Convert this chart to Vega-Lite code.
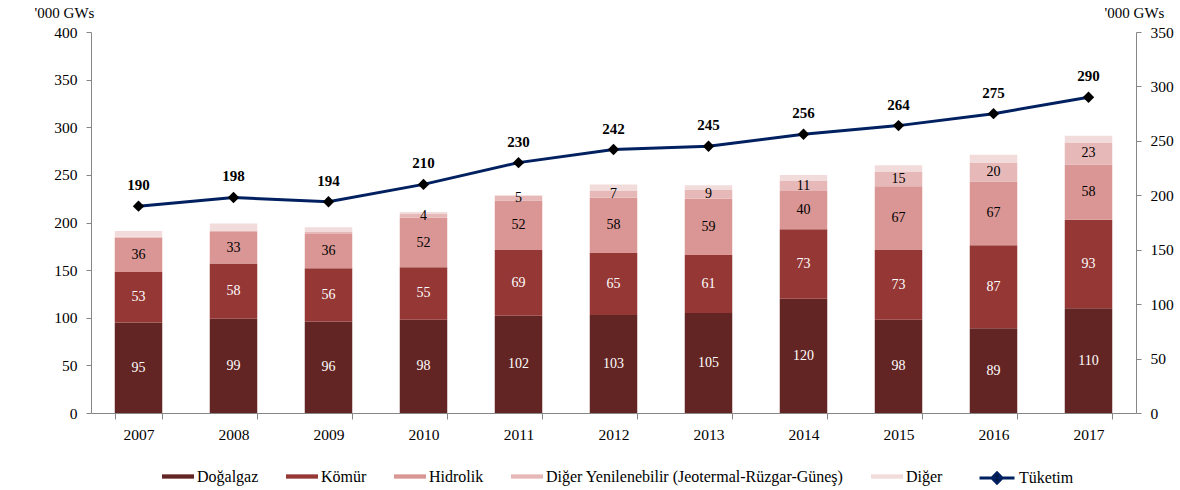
{
  "$schema": "https://vega.github.io/schema/vega-lite/v6.json",
  "width": 1045,
  "height": 381,
  "autosize": "none",
  "padding": {"left": 91, "top": 32, "right": 44, "bottom": 77},
  "background": "white",
  "config": {
    "view": {"stroke": null},
    "font": "Liberation Serif",
    "axis": {"labelFont": "Liberation Serif", "titleFont": "Liberation Serif"},
    "text": {"font": "Liberation Serif"},
    "legend": {"labelFont": "Liberation Serif", "titleFont": "Liberation Serif", "labelFontSize": 16, "labelColor": "black"}
  },
  "datasets": {
    "gen": [
      {"year": "2007", "source": "Doğalgaz", "value": 95},
      {"year": "2007", "source": "Kömür", "value": 53},
      {"year": "2007", "source": "Hidrolik", "value": 36},
      {"year": "2007", "source": "Diğer Yenilenebilir (Jeotermal-Rüzgar-Güneş)", "value": 1},
      {"year": "2007", "source": "Diğer", "value": 6},
      {"year": "2008", "source": "Doğalgaz", "value": 99},
      {"year": "2008", "source": "Kömür", "value": 58},
      {"year": "2008", "source": "Hidrolik", "value": 33},
      {"year": "2008", "source": "Diğer Yenilenebilir (Jeotermal-Rüzgar-Güneş)", "value": 1},
      {"year": "2008", "source": "Diğer", "value": 8},
      {"year": "2009", "source": "Doğalgaz", "value": 96},
      {"year": "2009", "source": "Kömür", "value": 56},
      {"year": "2009", "source": "Hidrolik", "value": 36},
      {"year": "2009", "source": "Diğer Yenilenebilir (Jeotermal-Rüzgar-Güneş)", "value": 2},
      {"year": "2009", "source": "Diğer", "value": 5},
      {"year": "2010", "source": "Doğalgaz", "value": 98},
      {"year": "2010", "source": "Kömür", "value": 55},
      {"year": "2010", "source": "Hidrolik", "value": 52},
      {"year": "2010", "source": "Diğer Yenilenebilir (Jeotermal-Rüzgar-Güneş)", "value": 4},
      {"year": "2010", "source": "Diğer", "value": 2},
      {"year": "2011", "source": "Doğalgaz", "value": 102},
      {"year": "2011", "source": "Kömür", "value": 69},
      {"year": "2011", "source": "Hidrolik", "value": 52},
      {"year": "2011", "source": "Diğer Yenilenebilir (Jeotermal-Rüzgar-Güneş)", "value": 5},
      {"year": "2011", "source": "Diğer", "value": 1},
      {"year": "2012", "source": "Doğalgaz", "value": 103},
      {"year": "2012", "source": "Kömür", "value": 65},
      {"year": "2012", "source": "Hidrolik", "value": 58},
      {"year": "2012", "source": "Diğer Yenilenebilir (Jeotermal-Rüzgar-Güneş)", "value": 7},
      {"year": "2012", "source": "Diğer", "value": 7},
      {"year": "2013", "source": "Doğalgaz", "value": 105},
      {"year": "2013", "source": "Kömür", "value": 61},
      {"year": "2013", "source": "Hidrolik", "value": 59},
      {"year": "2013", "source": "Diğer Yenilenebilir (Jeotermal-Rüzgar-Güneş)", "value": 9},
      {"year": "2013", "source": "Diğer", "value": 5},
      {"year": "2014", "source": "Doğalgaz", "value": 120},
      {"year": "2014", "source": "Kömür", "value": 73},
      {"year": "2014", "source": "Hidrolik", "value": 40},
      {"year": "2014", "source": "Diğer Yenilenebilir (Jeotermal-Rüzgar-Güneş)", "value": 11},
      {"year": "2014", "source": "Diğer", "value": 6},
      {"year": "2015", "source": "Doğalgaz", "value": 98},
      {"year": "2015", "source": "Kömür", "value": 73},
      {"year": "2015", "source": "Hidrolik", "value": 67},
      {"year": "2015", "source": "Diğer Yenilenebilir (Jeotermal-Rüzgar-Güneş)", "value": 15},
      {"year": "2015", "source": "Diğer", "value": 7},
      {"year": "2016", "source": "Doğalgaz", "value": 89},
      {"year": "2016", "source": "Kömür", "value": 87},
      {"year": "2016", "source": "Hidrolik", "value": 67},
      {"year": "2016", "source": "Diğer Yenilenebilir (Jeotermal-Rüzgar-Güneş)", "value": 20},
      {"year": "2016", "source": "Diğer", "value": 8},
      {"year": "2017", "source": "Doğalgaz", "value": 110},
      {"year": "2017", "source": "Kömür", "value": 93},
      {"year": "2017", "source": "Hidrolik", "value": 58},
      {"year": "2017", "source": "Diğer Yenilenebilir (Jeotermal-Rüzgar-Güneş)", "value": 23},
      {"year": "2017", "source": "Diğer", "value": 7}
    ],
    "cons": [
      {"year": "2007", "value": 190},
      {"year": "2008", "value": 198},
      {"year": "2009", "value": 194},
      {"year": "2010", "value": 210},
      {"year": "2011", "value": 230},
      {"year": "2012", "value": 242},
      {"year": "2013", "value": 245},
      {"year": "2014", "value": 256},
      {"year": "2015", "value": 264},
      {"year": "2016", "value": 275},
      {"year": "2017", "value": 290}
    ]
  },
  "encoding": {
    "x": {
      "field": "year",
      "type": "nominal",
      "scale": {"paddingInner": 0.5, "paddingOuter": 0.25},
      "axis": {
        "title": null,
        "labelAngle": 0,
        "labelFont": "Liberation Serif",
        "labelFontSize": 15.5,
        "labelColor": "black",
        "labelPadding": 8,
        "tickBand": "extent",
        "tickSize": 6,
        "tickColor": "#868686",
        "domainColor": "#868686",
        "grid": false
      }
    }
  },
  "layer": [
    {
      "data": {"name": "gen"},
      "transform": [
        {"calculate": "indexof(['Doğalgaz','Kömür','Hidrolik','Diğer Yenilenebilir (Jeotermal-Rüzgar-Güneş)','Diğer'], datum.source)", "as": "i"},
        {"stack": "value", "groupby": ["year"], "sort": [{"field": "i", "order": "ascending"}], "as": ["v0", "v1"]}
      ],
      "layer": [
        {
          "mark": {"type": "bar", "opacity": 1},
          "encoding": {
            "y": {
              "field": "v0",
              "type": "quantitative",
              "scale": {"domain": [0, 400]},
              "axis": {
                "values": [0, 50, 100, 150, 200, 250, 300, 350, 400],
                "grid": false,
                "domainColor": "#868686",
                "tickColor": "#868686",
                "tickSize": 5,
                "labelPadding": 9,
                "labelFont": "Liberation Serif",
                "labelFontSize": 15.5,
                "labelColor": "black",
                "title": "'000 GWs",
                "titleAngle": 0,
                "titleFont": "Liberation Serif",
                "titleFontSize": 15,
                "titleFontWeight": "normal",
                "titleColor": "black",
                "titleAlign": "center",
                "titleBaseline": "alphabetic",
                "titleX": -27,
                "titleY": -15
              }
            },
            "y2": {"field": "v1"},
            "color": {
              "field": "source",
              "type": "nominal",
              "scale": {
                "domain": ["Doğalgaz", "Kömür", "Hidrolik", "Diğer Yenilenebilir (Jeotermal-Rüzgar-Güneş)", "Diğer"],
                "range": ["#632523", "#953735", "#D99694", "#E6B9B8", "#F2DCDB"]
              },
              "legend": {
                "title": null,
                "orient": "none",
                "direction": "horizontal",
                "legendX": 71,
                "legendY": 428.5,
                "symbolType": "M-1,-0.135L1,-0.135L1,0.135L-1,0.135Z",
                "symbolSize": 1024,
                "symbolStrokeWidth": 0,
                "symbolOpacity": 1,
                "labelFont": "Liberation Serif",
                "labelFontSize": 16,
                "labelColor": "black",
                "labelOffset": 3,
                "columnPadding": 27,
                "labelLimit": 400
              }
            }
          }
        },
        {
          "transform": [
            {"filter": "datum.i < 4 && datum.value >= 4"},
            {"calculate": "(datum.v0 + datum.v1) / 2", "as": "mid"}
          ],
          "mark": {"type": "text", "font": "Liberation Serif", "fontSize": 14, "baseline": "middle", "align": "center"},
          "encoding": {
            "y": {"field": "mid", "type": "quantitative"},
            "text": {"field": "value", "type": "quantitative"},
            "color": {"condition": {"test": "datum.i < 2", "value": "white"}, "value": "black"}
          }
        }
      ]
    },
    {
      "data": {"name": "cons"},
      "layer": [
        {
          "mark": {"type": "line", "strokeWidth": 3},
          "encoding": {
            "y": {
              "field": "value",
              "type": "quantitative",
              "scale": {"domain": [0, 350]},
              "axis": {
                "orient": "right",
                "values": [0, 50, 100, 150, 200, 250, 300, 350],
                "grid": false,
                "domainColor": "#868686",
                "tickColor": "#868686",
                "tickSize": 5,
                "labelPadding": 9,
                "labelFont": "Liberation Serif",
                "labelFontSize": 15.5,
                "labelColor": "black",
                "title": "'000 GWs",
                "titleAngle": 0,
                "titleFont": "Liberation Serif",
                "titleFontSize": 15,
                "titleFontWeight": "normal",
                "titleColor": "black",
                "titleAlign": "center",
                "titleBaseline": "alphabetic",
                "titleX": -2,
                "titleY": -15
              }
            },
            "stroke": {
              "datum": "Tüketim",
              "scale": {"domain": ["Tüketim"], "range": ["#002060"]},
              "legend": {
                "title": null,
                "orient": "none",
                "legendX": 887,
                "legendY": 427,
                "symbolType": "M-1,0L1,0M-0.29,0L0,-0.29L0.29,0L0,0.29Z",
                "symbolSize": 1225,
                "symbolStrokeWidth": 3,
                "symbolFillColor": "black",
                "symbolStrokeColor": "#002060",
                "labelFont": "Liberation Serif",
                "labelFontSize": 16,
                "labelColor": "black",
                "labelOffset": 3
              }
            }
          }
        },
        {
          "mark": {"type": "point", "shape": "diamond", "filled": true, "color": "black", "size": 130, "opacity": 1},
          "encoding": {"y": {"field": "value", "type": "quantitative"}}
        },
        {
          "mark": {"type": "text", "font": "Liberation Serif", "fontSize": 15, "fontWeight": "bold", "color": "black", "dy": -21, "baseline": "middle"},
          "encoding": {
            "y": {"field": "value", "type": "quantitative"},
            "text": {"field": "value", "type": "quantitative"}
          }
        }
      ]
    }
  ],
  "resolve": {"scale": {"y": "independent"}}
}
